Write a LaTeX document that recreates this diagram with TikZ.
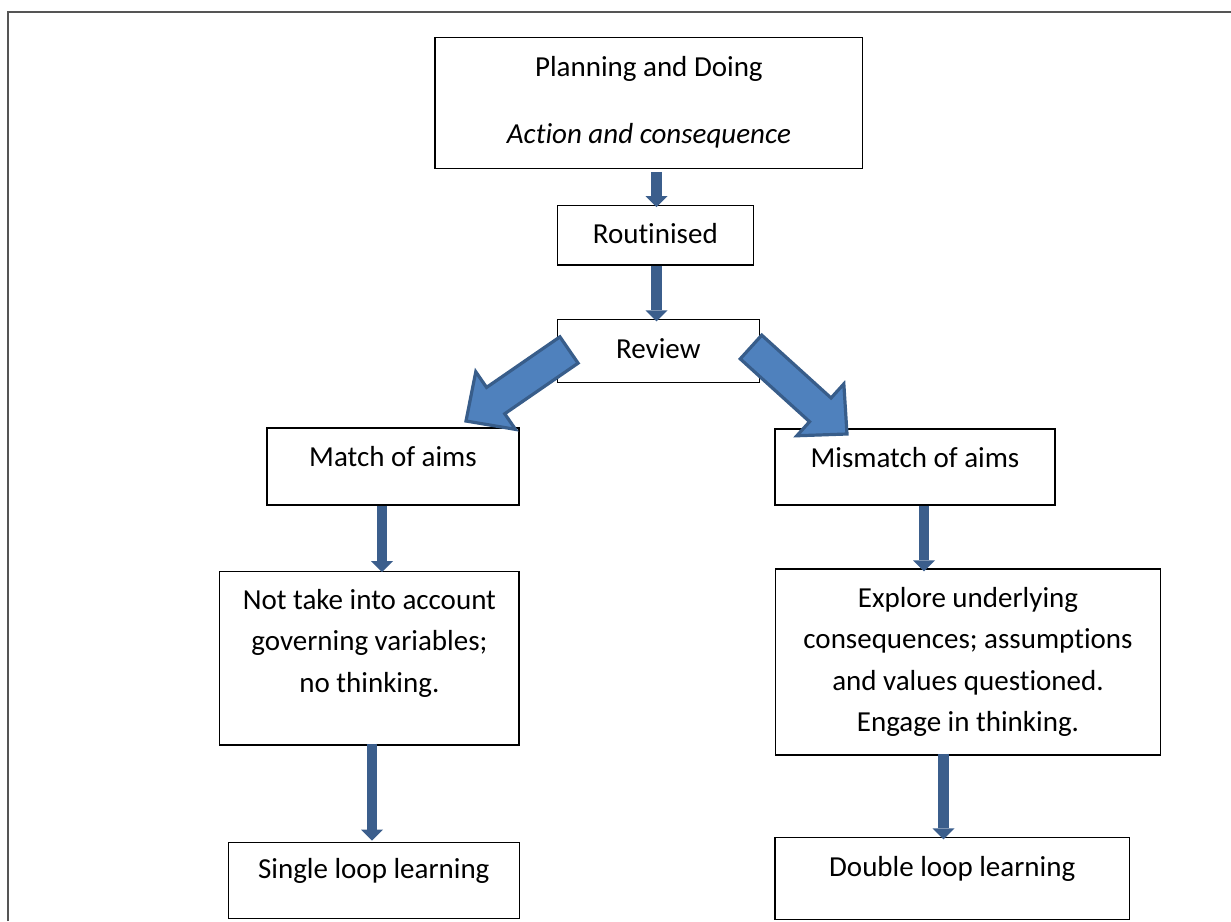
\documentclass[tikz,border=0pt]{standalone}
\usepackage{fontspec}
\setmainfont[Ligatures={NoCommon}]{Carlito}
\usetikzlibrary{calc,arrows.meta}
\definecolor{arrowdark}{HTML}{3B5E8C}
\definecolor{arrowfill}{HTML}{4F81BD}
\definecolor{arrowedge}{HTML}{385D8A}
\definecolor{framegray}{HTML}{555555}
\newcommand\tx[2]{\raisebox{#1}[0pt][0pt]{\begin{tabular}[b]{@{}c@{}}#2\end{tabular}}}
\newcommand\fatarrow[2]{%
  \coordinate (#1b) at ($(#2)!36pt!(#1)$);
  \draw[bigarrow] ($(#1)!16pt!90:(#2)$) -- ($(#1b)!16pt!90:(#2)$) -- ($(#1b)!35pt!90:(#2)$) -- (#2)
    -- ($(#1b)!35pt!-90:(#2)$) -- ($(#1b)!16pt!-90:(#2)$) -- ($(#1)!16pt!-90:(#2)$) -- cycle;}
\begin{document}
\begin{tikzpicture}[x=1pt,y=-1pt,
  box/.style={draw=black, line width=1.2pt, rectangle, inner sep=0pt, font=\fontsize{29}{41.3}\selectfont},
  smallarrow/.style={draw=arrowdark, line width=10.5pt, -{Triangle[width=22pt,length=11pt,line width=0pt]}},
  bigarrow/.style={fill=arrowfill, draw=arrowedge, line width=3.2pt, line join=miter},
  frameline/.style={draw=framegray, line width=2.2pt}]
\useasboundingbox (0,0) rectangle (1231,921);
\draw[frameline] (8,921) -- (8,12) -- (1231,12);

\node[box, minimum width=427.7pt, minimum height=131pt] (plan) at (648.9,102.8)
  {\tx{-40.5pt}{Planning and Doing\\[26pt]\textit{Action and consequence}}};
\node[box, minimum width=196pt, minimum height=59.3pt] (rout) at (655.3,235.35) {\tx{-8pt}{Routinised}};
\node[box, minimum width=202pt, minimum height=63.4pt] (review) at (658.3,351) {\tx{-7.3pt}{Review}};
\node[box, minimum width=252pt, minimum height=77pt] (match) at (393,466.5) {\tx{0.5pt}{Match of aims}};
\node[box, minimum width=280pt, minimum height=76pt] (mismatch) at (915,467) {\tx{-0.5pt}{Mismatch of aims}};
\node[box, minimum width=299.3pt, minimum height=173.3pt] (notake) at (369.4,658.4)
  {\tx{-33.6pt}{Not take into account\\governing variables;\\no thinking.}};
\node[box, minimum width=385.4pt, minimum height=186pt] (explore) at (968,662)
  {\tx{-69.3pt}{Explore underlying\\consequences; assumptions\\and values questioned.\\Engage in thinking.}};
\node[box, minimum width=291pt, minimum height=76pt] (single) at (373.8,880.3) {\tx{2.3pt}{Single loop learning}};
\node[box, minimum width=354.3pt, minimum height=82pt] (double) at (952.2,878.3) {\tx{1.8pt}{Double loop learning}};

\draw[smallarrow, shorten <=3pt, shorten >=-2pt] (plan.south -| 656.5,0) -- (rout.north -| 656.5,0);
\draw[smallarrow, shorten >=-2.7pt] (rout.south -| 656.5,0) -- (review.north -| 656.5,0);
\draw[smallarrow, shorten >=-1pt] (match.south -| 382,0) -- (notake.north -| 382,0);
\draw[smallarrow, shorten <=-2pt, shorten >=1pt] (notake.south -| 372,0) -- (single.north -| 372,0);
\draw[smallarrow, shorten >=-3pt] (mismatch.south -| 924,0) -- (explore.north -| 924,0);
\draw[smallarrow, shorten <=-2pt, shorten >=-2.7pt] (explore.south -| 943.5,0) -- (double.north -| 943.5,0);

\coordinate (ltail) at (569,350);
\coordinate (ltip) at (466,421);
\coordinate (rtail) at (751,347);
\coordinate (rtip) at (847,434);
\fatarrow{ltail}{ltip}
\fatarrow{rtail}{rtip}
\end{tikzpicture}
\end{document}
